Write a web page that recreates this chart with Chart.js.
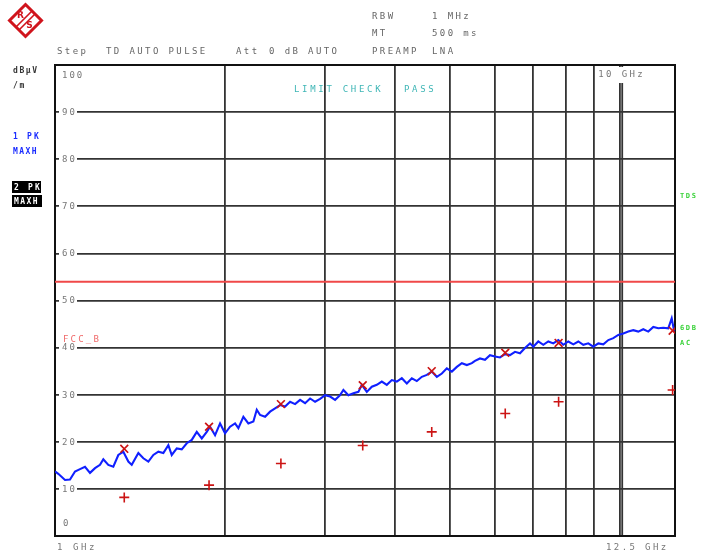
<!DOCTYPE html>
<html>
<head>
<meta charset="utf-8">
<script src="https://cdn.jsdelivr.net/npm/chart.js@4/dist/chart.umd.min.js"></script>
<style>
  html, body { margin: 0; padding: 0; background: #fff; overflow: hidden; }
  canvas { display: block; }
</style>
</head>
<body>
<canvas id="c" width="701" height="555"></canvas>
<script>
// Radiated emission sweep, 1 GHz - 12.5 GHz, level in dBµV/m

// Trace 1 (PK, MAXH): frequency in GHz and level in dBµV/m
const traceFreq = [
  1.000, 1.0135, 1.0416, 1.0630, 1.0849, 1.1072, 1.1300, 1.1533, 1.1771, 1.2013,
  1.2176, 1.2426, 1.2682, 1.2943, 1.3210, 1.3482, 1.3670, 1.4043, 1.4332, 1.4627,
  1.4928, 1.5235, 1.5549, 1.5869, 1.6090, 1.6422, 1.6760, 1.7105, 1.7457, 1.7816,
  1.8183, 1.8557, 1.8808, 1.9195, 1.9590, 1.9993, 2.0405, 2.0825, 2.1107, 2.1541,
  2.1984, 2.2437, 2.2750, 2.3058, 2.3532, 2.4017, 2.4511, 2.5016, 2.5531, 2.6056,
  2.6593, 2.7140, 2.7699, 2.8269, 2.8851, 2.9445, 3.0051, 3.0670, 3.1301, 3.1946,
  3.2378, 3.3044, 3.3724, 3.4419, 3.4899, 3.5617, 3.6350, 3.7098, 3.7862, 3.8642,
  3.9437, 4.0249, 4.1077, 4.1923, 4.2786, 4.3667, 4.4566, 4.5483, 4.6419, 4.7375,
  4.8350, 4.9345, 5.0361, 5.1398, 5.2456, 5.3536, 5.4638, 5.5338, 5.6477, 5.7640,
  5.8826, 6.0037, 6.1273, 6.2535, 6.3822, 6.5136, 6.6477, 6.7845, 6.9242, 7.0178,
  7.1622, 7.3097, 7.4601, 7.6137, 7.7704, 7.9304, 8.0936, 8.2603, 8.4303, 8.6038,
  8.7809, 8.9617, 9.1462, 9.3344, 9.5266, 9.7218, 9.9218, 10.126, 10.334, 10.547,
  10.764, 10.985, 11.211, 11.442, 11.678, 11.918, 12.163, 12.333, 12.448, 12.500
];
const traceLevel = [
  13.7, 13.2, 11.9, 12.0, 13.7, 14.2, 14.7, 13.4, 14.4, 15.1,
  16.3, 15.1, 14.7, 17.2, 17.9, 15.8, 15.1, 17.6, 16.5, 15.8,
  17.2, 17.9, 17.6, 19.3, 17.2, 18.6, 18.4, 19.7, 20.4, 22.1,
  20.7, 22.1, 23.2, 21.4, 23.9, 21.8, 23.2, 23.9, 22.9, 25.3,
  23.9, 24.3, 26.8, 25.7, 25.3, 26.4, 27.1, 27.8, 27.5, 28.5,
  28.0, 28.9, 28.2, 29.2, 28.5, 29.1, 29.9, 29.6, 28.9, 29.9,
  31.0, 29.9, 30.3, 30.6, 32.1, 30.6, 31.7, 32.1, 32.8, 32.1,
  33.1, 32.8, 33.5, 32.4, 33.5, 32.9, 33.8, 34.2, 34.9, 33.8,
  34.5, 35.6, 34.9, 35.9, 36.7, 36.3, 36.7, 37.2, 37.7, 37.4,
  38.4, 38.1, 37.9, 38.6, 38.4, 39.1, 38.8, 39.9, 40.9, 40.2,
  41.3, 40.6, 41.3, 40.9, 41.6, 40.6, 41.3, 40.7, 41.3, 40.6,
  40.9, 40.2, 40.9, 40.7, 41.6, 42.0, 42.7, 43.0, 43.4, 43.7,
  43.4, 43.9, 43.4, 44.4, 44.1, 44.2, 44.1, 46.2, 43.7, 44.0
];

// Final measurement points: peak (X) and average (+)
const peakFreq  = [1.326, 1.873, 2.51, 3.503, 4.64, 6.26, 7.78, 12.38];
const peakLevel = [18.5, 23.2, 28.0, 32.0, 35.0, 38.9, 41.0, 43.6];
const avgLevel  = [8.2, 10.8, 15.4, 19.2, 22.1, 26.0, 28.5, 31.0];

// FCC class B limit line
const limitFreq  = [1, 12.5];
const limitLevel = [54, 54];

// Grid divisions and level labels
const gridFreq   = [2, 3, 4, 5, 6, 7, 8, 9, 10];
const levelTicks = [10, 20, 30, 40, 50, 60, 70, 80, 90];
const levelMin = 0, levelMax = 100;
const freqMin = 1, freqMax = 12.5;

const MONO = '"DejaVu Sans Mono", "Liberation Mono", monospace';
const GREY = '#666';
const GRID = '#333';

function pts(xs, ys) { return xs.map((x, i) => ({ x: x, y: ys[i] })); }

function text(ctx, s, x, y, color, size, spacing, weight) {
  ctx.save();
  ctx.font = (weight || 'normal') + ' ' + (size || 9) + 'px ' + MONO;
  ctx.letterSpacing = (spacing === undefined ? 2.4 : spacing) + 'px';
  ctx.fillStyle = color;
  ctx.textAlign = 'left';
  ctx.textBaseline = 'middle';
  ctx.fillText(s, x, y);
  ctx.restore();
}

function drawLogo(ctx, cx, cy, r) {
  ctx.save();
  ctx.strokeStyle = '#d0141c';
  ctx.fillStyle = '#d0141c';
  ctx.lineWidth = 3;
  ctx.lineJoin = 'miter';
  ctx.beginPath();
  ctx.moveTo(cx, cy - r); ctx.lineTo(cx + r, cy); ctx.lineTo(cx, cy + r); ctx.lineTo(cx - r, cy);
  ctx.closePath();
  ctx.stroke();
  ctx.lineWidth = 1.6;
  ctx.beginPath();
  ctx.moveTo(cx + r / 2 + 1.5, cy - r / 2 + 1.5); ctx.lineTo(cx - r / 2 + 1.5, cy + r / 2 + 1.5);
  ctx.moveTo(cx + r / 2 - 1.5, cy - r / 2 - 1.5); ctx.lineTo(cx - r / 2 - 1.5, cy + r / 2 - 1.5);
  ctx.stroke();
  ctx.font = 'bold 9px "DejaVu Sans", sans-serif';
  ctx.textAlign = 'center';
  ctx.textBaseline = 'middle';
  ctx.fillText('R', cx - 5, cy - 5);
  ctx.fillText('S', cx + 4, cy + 5);
  ctx.restore();
}

const decor = {
  id: 'analyzerDecor',
  beforeDatasetsDraw(chart) {
    const ctx = chart.ctx;
    const a = chart.chartArea;
    const ys = chart.scales.y, xs = chart.scales.x;

    // level labels sit on their grid lines
    levelTicks.forEach(v => {
      const py = ys.getPixelForValue(v);
      ctx.fillStyle = '#fff';
      ctx.fillRect(a.left + 4, py - 4, 18, 8);
      text(ctx, String(v), a.left + 7, py + 0.5, '#777', 9, 2);
    });
    text(ctx, '100', a.left + 7, a.top + 10.5, '#777', 9, 2);
    text(ctx, '0', a.left + 8, a.bottom - 12, '#777', 9, 2);

    // 10 GHz frequency line
    const p10 = xs.getPixelForValue(10);
    ctx.save();
    ctx.strokeStyle = GRID;
    ctx.lineWidth = 1.8;
    ctx.beginPath();
    ctx.moveTo(p10 + 2, a.top); ctx.lineTo(p10 + 2, a.bottom);
    ctx.stroke();
    ctx.restore();
    ctx.fillStyle = '#fff';
    ctx.fillRect(p10 - 23, a.top + 2, 48, 16);
    text(ctx, '10 GHz', p10 - 22, a.top + 10, '#777', 9, 2.4);

    // frame
    ctx.save();
    ctx.strokeStyle = '#111';
    ctx.lineWidth = 2;
    ctx.strokeRect(a.left, a.top, a.right - a.left, a.bottom - a.top);
    ctx.restore();
  },
  afterDraw(chart) {
    const ctx = chart.ctx;

    drawLogo(ctx, 25.5, 20.5, 16);

    // header settings
    text(ctx, 'Step', 57, 52, GREY);
    text(ctx, 'TD AUTO PULSE', 106, 52, GREY);
    text(ctx, 'Att', 236, 52, GREY);
    text(ctx, '0 dB AUTO', 269, 52, GREY);
    text(ctx, 'RBW', 372, 16.5, GREY);
    text(ctx, '1 MHz', 432, 16.5, GREY);
    text(ctx, 'MT', 372, 34, GREY);
    text(ctx, '500 ms', 432, 34, GREY);
    text(ctx, 'PREAMP', 372, 52, GREY);
    text(ctx, 'LNA', 432, 52, GREY);

    // unit and trace info at the left
    text(ctx, 'dBµV', 13, 71, '#333', 8, 1.6, 'bold');
    text(ctx, '/m', 13, 86, '#333', 8, 1.6, 'bold');
    text(ctx, '1 PK', 13, 137, '#1a2cff', 8, 2.2, 'bold');
    text(ctx, 'MAXH', 13, 152, '#1a2cff', 8, 1.4, 'bold');
    ctx.fillStyle = '#000';
    ctx.fillRect(12, 181, 29, 12);
    ctx.fillRect(12, 195, 30, 12);
    text(ctx, '2 PK', 14, 187.5, '#fff', 8, 2.2, 'bold');
    text(ctx, 'MAXH', 14, 201.5, '#fff', 8, 1.4, 'bold');

    // status inside the diagram
    text(ctx, 'LIMIT CHECK', 294, 89.5, '#3fb6b6', 9, 2.7);
    text(ctx, 'PASS', 404, 89.5, '#3fb6b6', 9, 2.7);
    text(ctx, 'FCC_B', 63, 339.5, '#f06a6a', 9, 2.2);

    // right-hand annotations
    text(ctx, 'TDS', 680, 196, '#3ad23a', 7, 1.6, 'bold');
    text(ctx, '6DB', 680, 328.5, '#3ad23a', 7, 1.6, 'bold');
    text(ctx, 'AC', 680, 343.5, '#3ad23a', 7, 1.8, 'bold');

    // span labels
    text(ctx, '1 GHz', 57, 547.5, '#777', 9, 2.6);
    text(ctx, '12.5 GHz', 606, 547.5, '#777', 9, 2.4);
  }
};

new Chart(document.getElementById('c'), {
  type: 'line',
  data: {
    datasets: [
      {
        label: 'Peak',
        data: pts(peakFreq, peakLevel),
        showLine: false,
        pointStyle: 'crossRot',
        pointRadius: 5.5,
        pointBorderColor: '#cc1414',
        pointBorderWidth: 1.7,
        order: 0
      },
      {
        label: 'Average',
        data: pts(peakFreq, avgLevel),
        showLine: false,
        pointStyle: 'cross',
        pointRadius: 5,
        pointBorderColor: '#cc1414',
        pointBorderWidth: 1.6,
        order: 1
      },
      {
        label: '1 PK MAXH',
        data: pts(traceFreq, traceLevel),
        borderColor: '#1020ff',
        borderWidth: 2.1,
        pointRadius: 0,
        tension: 0,
        order: 2
      },
      {
        label: 'FCC_B',
        data: pts(limitFreq, limitLevel),
        borderColor: '#f04848',
        borderWidth: 2,
        pointRadius: 0,
        order: 3
      }
    ]
  },
  options: {
    responsive: false,
    animation: false,
    devicePixelRatio: 1,
    layout: { padding: { left: 55, right: 26, top: 65, bottom: 19 } },
    plugins: { legend: { display: false }, tooltip: { enabled: false } },
    scales: {
      x: {
        type: 'logarithmic',
        min: freqMin,
        max: freqMax,
        afterBuildTicks: s => { s.ticks = gridFreq.map(v => ({ value: v })); },
        ticks: { display: false },
        grid: { color: GRID, lineWidth: 1.8, drawTicks: false },
        border: { display: false }
      },
      y: {
        type: 'linear',
        min: levelMin,
        max: levelMax,
        afterBuildTicks: s => { s.ticks = levelTicks.map(v => ({ value: v })); },
        ticks: { display: false },
        grid: { color: GRID, lineWidth: 1.8, drawTicks: false },
        border: { display: false }
      }
    }
  },
  plugins: [decor]
});
</script>
</body>
</html>
